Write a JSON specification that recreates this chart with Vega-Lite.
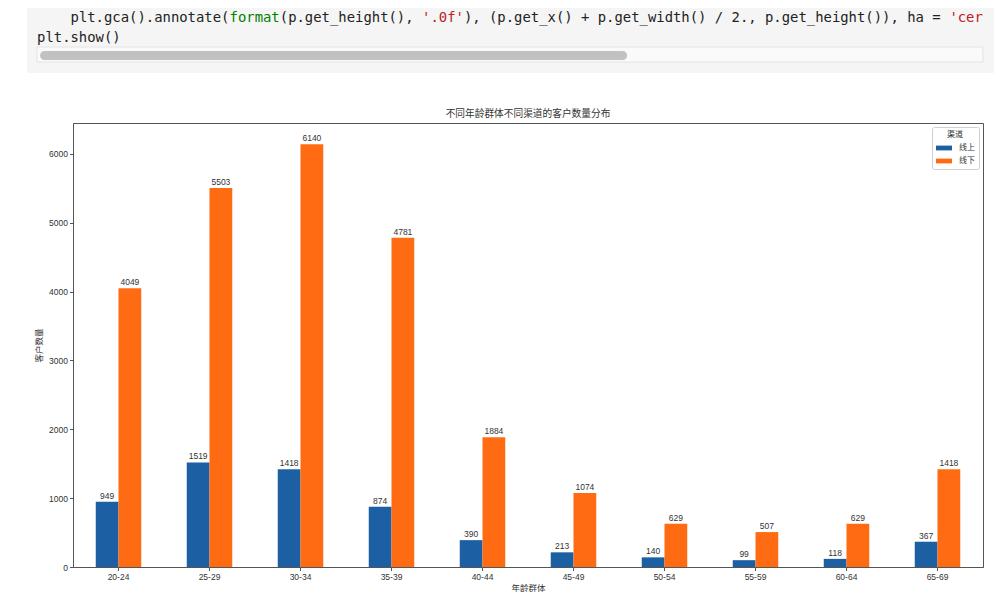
{
  "$schema": "https://vega.github.io/schema/vega-lite/v6.json",
  "background": "white",
  "padding": {"left": 27, "top": 8, "right": 0, "bottom": 0},
  "spacing": 35,
  "resolve": {"scale": {"color": "independent"}, "legend": {"color": "independent"}},
  "config": {
    "font": "Liberation Sans, Noto Sans CJK SC, sans-serif",
    "axis": {"grid": false, "domainColor": "#555", "tickColor": "#555", "labelColor": "#333", "titleColor": "#333", "tickSize": 3.5, "labelFontSize": 8.5, "titleFontSize": 8.5, "titleFontWeight": "normal", "labelPadding": 2}
  },
  "vconcat": [
    {
      "width": 921,
      "height": 65,
      "view": {"stroke": null},
      "encoding": {
        "x": {"field": "x", "type": "quantitative", "scale": {"domain": [-1.2, 114.33], "range": [-46, 921]}, "axis": null},
        "y": {"field": "y", "type": "quantitative", "scale": {"domain": [0, 3.25], "reverse": true}, "axis": null}
      },
      "layer": [
        {
          "data": {"values": [{"x": -1.2, "x2": 114.33, "y": 0, "y2": 3.25}]},
          "mark": {"type": "rect", "color": "#f5f5f5"},
          "encoding": {"x2": {"field": "x2"}, "y2": {"field": "y2"}}
        },
        {
          "data": {"values": [{"x": 0, "x2": 113, "y": 1.95, "y2": 2.7}]},
          "mark": {"type": "rect", "fill": "#fafafa", "stroke": "#e4e4e4", "strokeWidth": 1},
          "encoding": {"x2": {"field": "x2"}, "y2": {"field": "y2"}}
        },
        {
          "data": {"values": [{"x": 0.36, "x2": 70.5, "y": 2.15, "y2": 2.6}]},
          "mark": {"type": "rect", "fill": "#c1c1c1", "cornerRadius": 4.5},
          "encoding": {"x2": {"field": "x2"}, "y2": {"field": "y2"}}
        },
        {
          "data": {"values": [
            {"x": 4, "y": 0.5, "t": "plt.gca().annotate(", "c": "#222222"},
            {"x": 23, "y": 0.5, "t": "format", "c": "#008000"},
            {"x": 29, "y": 0.5, "t": "(p.get_height(),", "c": "#222222"},
            {"x": 46, "y": 0.5, "t": "'.0f'", "c": "#ba2121"},
            {"x": 51, "y": 0.5, "t": "), (p.get_x() + p.get_width() / 2., p.get_height()), ha = ", "c": "#222222"},
            {"x": 109, "y": 0.5, "t": "'cer", "c": "#ba2121"},
            {"x": 0, "y": 1.5, "t": "plt.show()", "c": "#222222"}
          ]},
          "mark": {"type": "text", "align": "left", "baseline": "middle", "font": "DejaVu Sans Mono", "fontSize": 13.9},
          "encoding": {
            "text": {"field": "t"},
            "color": {"field": "c", "type": "nominal", "scale": null}
          }
        }
      ]
    },
    {
      "width": 910,
      "height": 444,
      "view": {"stroke": "#555", "strokeWidth": 1},
      "title": {"text": "不同年龄群体不同渠道的客户数量分布", "fontSize": 9.7, "fontWeight": "normal", "color": "#333", "offset": 4},
      "data": {"values": [
        {"group": "20-24", "channel": "线上", "count": 949},
        {"group": "20-24", "channel": "线下", "count": 4049},
        {"group": "25-29", "channel": "线上", "count": 1519},
        {"group": "25-29", "channel": "线下", "count": 5503},
        {"group": "30-34", "channel": "线上", "count": 1418},
        {"group": "30-34", "channel": "线下", "count": 6140},
        {"group": "35-39", "channel": "线上", "count": 874},
        {"group": "35-39", "channel": "线下", "count": 4781},
        {"group": "40-44", "channel": "线上", "count": 390},
        {"group": "40-44", "channel": "线下", "count": 1884},
        {"group": "45-49", "channel": "线上", "count": 213},
        {"group": "45-49", "channel": "线下", "count": 1074},
        {"group": "50-54", "channel": "线上", "count": 140},
        {"group": "50-54", "channel": "线下", "count": 629},
        {"group": "55-59", "channel": "线上", "count": 99},
        {"group": "55-59", "channel": "线下", "count": 507},
        {"group": "60-64", "channel": "线上", "count": 118},
        {"group": "60-64", "channel": "线下", "count": 629},
        {"group": "65-69", "channel": "线上", "count": 367},
        {"group": "65-69", "channel": "线下", "count": 1418}
      ]},
      "encoding": {
        "x": {"field": "group", "type": "nominal", "sort": null, "scale": {"paddingInner": 0.5, "paddingOuter": 0.25}, "axis": {"title": "年龄群体", "labelAngle": 0, "titlePadding": 2}},
        "xOffset": {"field": "channel", "type": "nominal", "sort": ["线上", "线下"], "scale": {"paddingInner": 0, "paddingOuter": 0}},
        "y": {"field": "count", "type": "quantitative", "scale": {"domain": [0, 6447], "nice": false}, "axis": {"title": "客户数量", "values": [0, 1000, 2000, 3000, 4000, 5000, 6000], "format": "d", "titlePadding": 5}}
      },
      "layer": [
        {
          "mark": {"type": "bar"},
          "encoding": {
            "color": {"field": "channel", "type": "nominal", "sort": ["线上", "线下"], "scale": {"domain": ["线上", "线下"], "range": ["#1c5fa3", "#ff6b12"]},
              "legend": {"title": "渠道", "orient": "top-right", "offset": 4, "padding": 4, "strokeColor": "#d0d0d0", "fillColor": "white", "cornerRadius": 2, "titleFontSize": 8, "titleFontWeight": "normal", "titleAnchor": "middle", "titleColor": "#333", "labelFontSize": 8, "labelColor": "#333", "symbolType": "M-1,-0.3H1V0.3H-1Z", "symbolSize": 256, "symbolStrokeWidth": 0, "rowPadding": 1, "labelOffset": 7, "titlePadding": 1}}
          }
        },
        {
          "mark": {"type": "text", "baseline": "bottom", "dy": -1, "fontSize": 8.5, "color": "#333"},
          "encoding": {"text": {"field": "count", "type": "quantitative", "format": "d"}}
        }
      ]
    }
  ]
}
